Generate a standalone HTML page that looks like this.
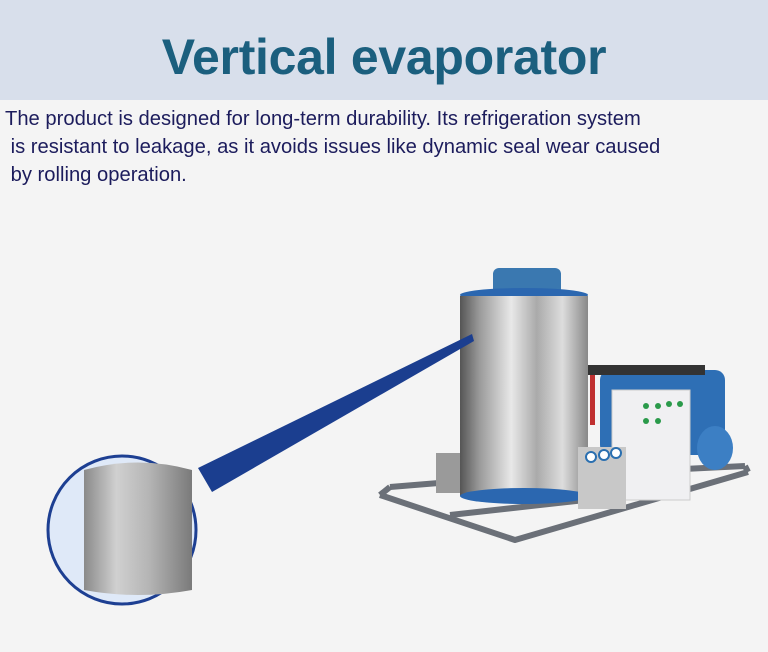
<!DOCTYPE html><html><head><style>
body{margin:0;width:768px;height:652px;background:#f4f4f4;font-family:"Liberation Sans",sans-serif;overflow:hidden}
.h{height:100px;background:#d8dfeb;text-align:center}
.h h1{margin:0;padding-top:28px;font-size:50px;color:#1b5f7e;font-weight:bold;letter-spacing:-0.3px}
.t{position:absolute;left:5px;top:105px;font-size:20.2px;line-height:28px;color:#1c1c5c;white-space:pre}
svg{position:absolute;left:0;top:0}
</style></head><body>
<div class="h"><h1>Vertical evaporator</h1></div>
<div class="t">The product is designed for long-term durability. Its refrigeration system
 is resistant to leakage, as it avoids issues like dynamic seal wear caused
 by rolling operation.</div>
<svg width="768" height="652">
<defs>
<linearGradient id="s" x1="0" x2="1"><stop offset="0" stop-color="#555"/><stop offset=".15" stop-color="#999"/><stop offset=".4" stop-color="#e8e8e8"/><stop offset=".6" stop-color="#aaa"/><stop offset=".8" stop-color="#ddd"/><stop offset="1" stop-color="#888"/></linearGradient>
<linearGradient id="s2" x1="0" x2="1"><stop offset="0" stop-color="#8a8a8a"/><stop offset=".3" stop-color="#d0d0d0"/><stop offset=".6" stop-color="#b5b5b5"/><stop offset="1" stop-color="#7a7a7a"/></linearGradient>
</defs>
<g fill="none" stroke="#6b7078" stroke-width="6" stroke-linejoin="round">
<polyline points="380,495 515,540 748,472"/>
<polyline points="390,487 500,478 745,466"/>
<line x1="380" y1="495" x2="390" y2="487"/>
<line x1="748" y1="472" x2="745" y2="466"/>
<line x1="450" y1="515" x2="585" y2="500"/>
</g>
<rect x="436" y="453" width="30" height="40" fill="#9a9a9a"/>
<rect x="600" y="370" width="125" height="85" rx="10" fill="#2e6fb5"/>
<ellipse cx="715" cy="448" rx="18" ry="22" fill="#3c7fc4"/>
<rect x="585" y="365" width="120" height="10" fill="#333"/>
<rect x="590" y="375" width="5" height="50" fill="#c03030"/>
<rect x="493" y="268" width="68" height="28" rx="6" fill="#3a78b0"/>
<ellipse cx="524" cy="295" rx="64" ry="7" fill="#2b67b0"/>
<rect x="460" y="296" width="128" height="200" fill="url(#s)"/>
<ellipse cx="524" cy="496" rx="64" ry="8" fill="#2b67b0"/>
<rect x="612" y="390" width="78" height="110" fill="#f0f0f2" stroke="#ccc"/>
<g fill="#2a9a4a"><circle cx="646" cy="406" r="3"/><circle cx="658" cy="406" r="3"/><circle cx="669" cy="404" r="3"/><circle cx="680" cy="404" r="3"/><circle cx="646" cy="421" r="3"/><circle cx="658" cy="421" r="3"/></g>
<rect x="578" y="447" width="48" height="62" fill="#c8c8c8"/>
<g fill="#fff" stroke="#2a6fb0" stroke-width="2"><circle cx="591" cy="457" r="5"/><circle cx="604" cy="455" r="5"/><circle cx="616" cy="453" r="5"/></g>
<polygon points="198,468 472,334 474,341 212,492" fill="#1b3e8f"/>
<circle cx="122" cy="530" r="74" fill="#dfe9f8" stroke="#1d3f92" stroke-width="3"/>
<path d="M84,470 Q138,455 192,470 L192,590 Q138,600 84,590 Z" fill="url(#s2)"/>
</svg>
</body></html>
